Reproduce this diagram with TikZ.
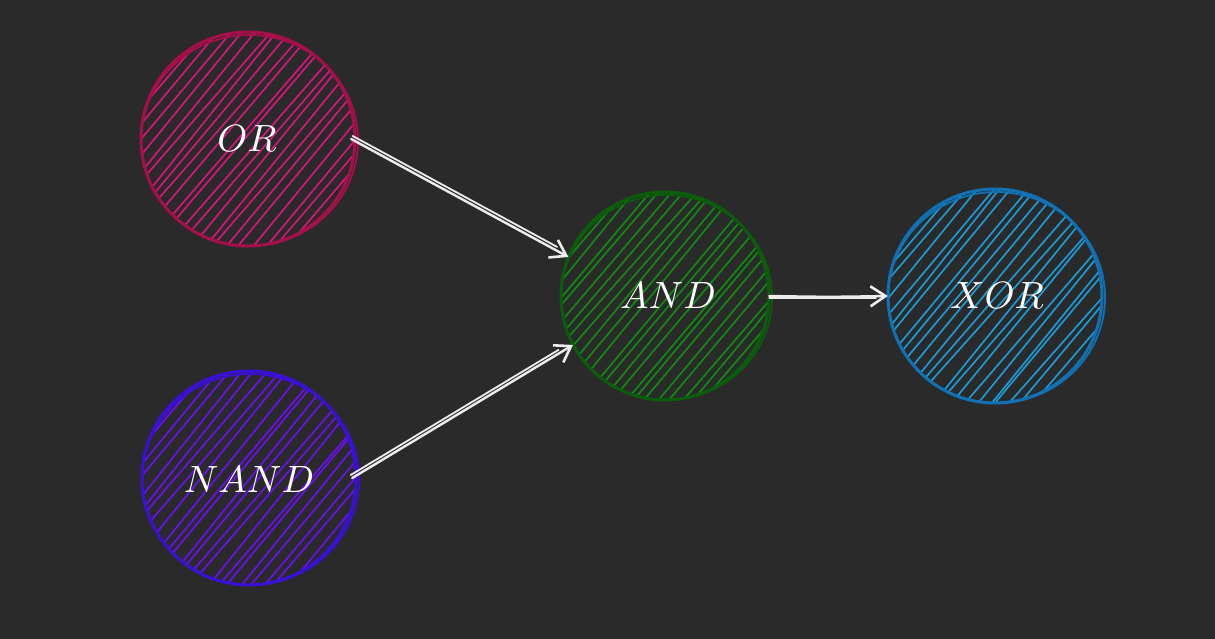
\documentclass[tikz,border=0pt]{standalone}
\usetikzlibrary{arrows.meta,calc}
\definecolor{bg}{HTML}{2A2A2A}
\definecolor{orS}{HTML}{A50F4A}\definecolor{orF}{HTML}{D6157A}
\definecolor{andS}{HTML}{0B5C0B}\definecolor{andF}{HTML}{118A11}
\definecolor{xorS}{HTML}{1071B5}\definecolor{xorF}{HTML}{1C9AD6}
\definecolor{nandS}{HTML}{3A10D6}\definecolor{nandF}{HTML}{6A10F0}
\tikzset{
  gate/.style={circle, draw=none, inner sep=0pt, minimum size=#1},
  lbl/.style={text=white, inner sep=0pt, scale=3.8},
  hach/.style={line width=1.7pt, line cap=round},
  rim/.style={line width=3pt},
  conn/.style={draw=white!93!black, line width=2.4pt, line cap=round,
     -{Straight Barb[length=15pt,width=20pt,line width=2.6pt]}},
  connb/.style={draw=white!93!black, line width=1.8pt, line cap=round},
}
\pgfmathsetseed{11}
\newcommand\sketchgate[4]{% name, radius, stroke, fill
  \begin{scope}[shift={(#1.center)}, x=1pt, y=1pt]
    \begin{scope}
      \clip (0,0) circle (#2-1);
      \begin{scope}[rotate=50]
        \foreach \i in {-117,-108,...,117}{
          \pgfmathsetmacro\a{4*rand}\pgfmathsetmacro\b{4*rand}
          \draw[hach,#4] (-125,\i+\a) -- (125,\i+\b);
        }
      \end{scope}
    \end{scope}
    \draw[rim,#3] (0,0) circle (#2);
    \draw[rim,#3,line width=1.8pt] (1.5,-1.5) ellipse ({#2+1.5} and {#2-1.5});
  \end{scope}}
\begin{document}
\begin{tikzpicture}[x=1pt,y=-1pt]
\fill[bg] (0,0) rectangle (1215,639);
\useasboundingbox (0,0) rectangle (1215,639);
\node[gate=214pt] (or)   at (248,139) {};
\node[gate=208pt] (and)  at (665,296) {};
\node[gate=214pt] (xor)  at (995,296) {};
\node[gate=214pt] (nand) at (249,478) {};
\sketchgate{or}{107}{orS}{orF}
\sketchgate{and}{104}{andS}{andF}
\sketchgate{xor}{107}{xorS}{xorF}
\sketchgate{nand}{107}{nandS}{nandF}
\node[lbl] (orl) at ([xshift=-1pt]or.center) {$OR$};
\node[lbl] (andl) at ([xshift=3pt]and.center) {$AND$};
\node[lbl] (xorl) at ([xshift=2pt]xor.center) {$XOR$};
\node[lbl] (nandl) at ([yshift=-2pt]nand.center) {$NAND$};
% connectors
\draw[conn] ([xshift=-4pt]or.east) -- (and.158);
\draw[connb,transform canvas={shift={(1.5pt,3pt)}}] ([xshift=-4pt]or.east) -- ($(and.158)!0.06!(or.east)$);
\draw[conn] ([xshift=-4pt]nand.east) -- (and.208);
\draw[connb,transform canvas={shift={(-1.5pt,3pt)}}] ([xshift=-4pt]nand.east) -- ($(and.208)!0.06!(nand.east)$);
\draw[conn] (and.east) .. controls ($(and.east)!0.5!(xor.west)+(0,1)$) .. (xor.west);
\draw[connb,transform canvas={shift={(0pt,-2pt)}}] (and.east) -- ($(xor.west)!0.1!(and.east)$);
\end{tikzpicture}
\end{document}
